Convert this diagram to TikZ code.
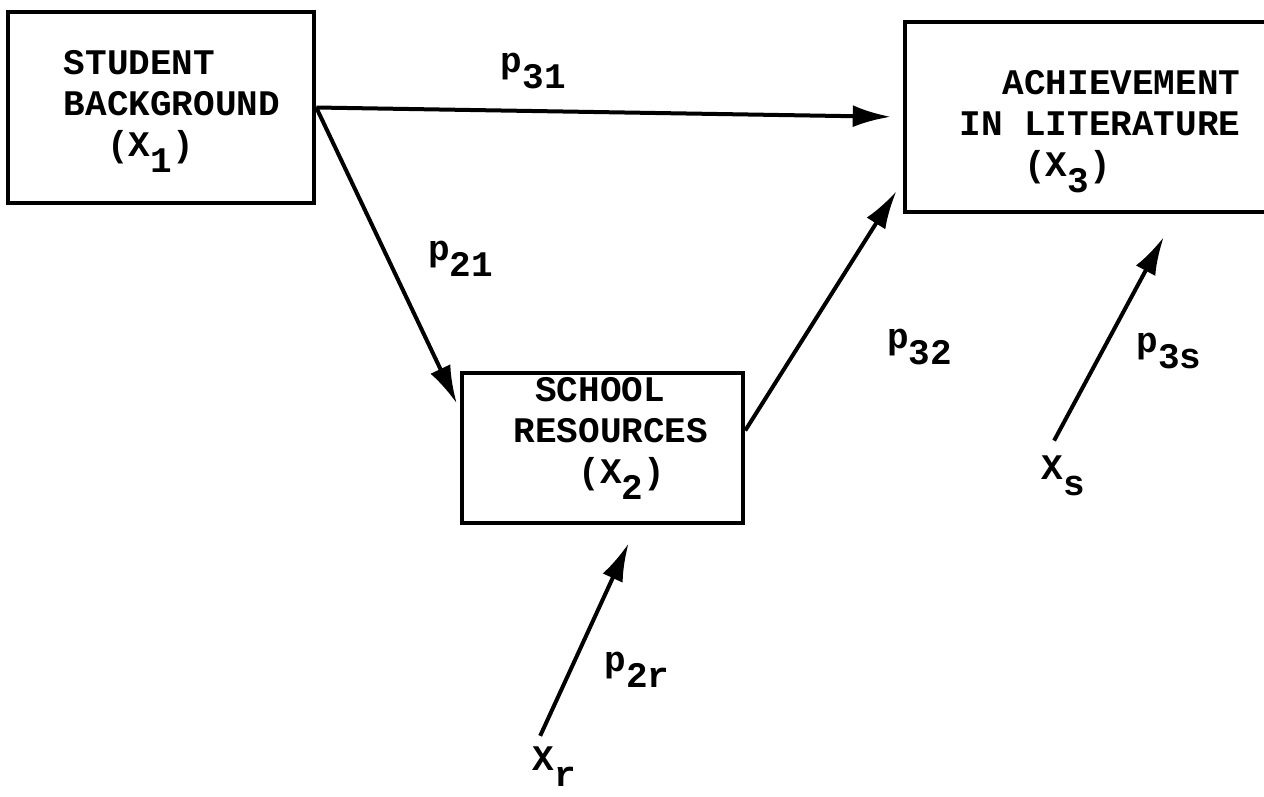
\documentclass[tikz,border=0pt]{standalone}
\usepackage{fontspec}
\setmainfont{Liberation Mono}
\usetikzlibrary{arrows.meta, positioning}
\newcommand{\subx}[1]{\raisebox{-16pt}{#1}}
\tikzstyle{block} = [rectangle, draw=black, line width=4.5pt]
\tikzstyle{blocktext} = [align=left, inner sep=0pt, font=\fontsize{36}{41}\selectfont\bfseries]
\tikzstyle{lbl} = [inner sep=2pt, font=\fontsize{36}{41}\selectfont\bfseries]
\tikzstyle{arrow} = [line width=4pt, -{Latex[length=38pt, width=22pt]}]

\begin{document}
\begin{tikzpicture}[x=1pt, y=-1pt]
\useasboundingbox (0,0) rectangle (1264,796);

\node (background) [block, minimum width=306pt, minimum height=191pt] at (161,107.5) {};
\node (resources) [block, minimum width=281pt, minimum height=150pt] at (602.5,448) {};
\node (literature) [block, minimum width=390pt, minimum height=190pt] at (1100,117) {};

\node (backgroundtext) [blocktext] at (172,111) {STUDENT\\BACKGROUND\\\phantom{XX}(X\subx{1})};
\node (resourcestext) [blocktext] at (611,438) {\phantom{X}SCHOOL\\RESOURCES\\\phantom{XXX}(X\subx{2})};
\node (literaturetext) [blocktext] at (1100,132) {\phantom{XX}ACHIEVEMENT\\IN LITERATURE\\\phantom{XXX}(X\subx{3})};

\node (xr) [lbl] at (554,767) {X\subx{r}};
\node (xs) [lbl] at (1063,476) {X\subx{s}};

% Arrows
\draw [arrow, shorten >=12pt] (background.east) -- node[lbl, pos=0.37, above=18pt] {p\subx{31}} (literature.west);
\draw [arrow, shorten >=7pt] (background.east) -- node[lbl, pos=0.5, right=36pt] {p\subx{21}} (resources.165);
\draw [arrow, shorten >=12pt] (resources.7) -- node[lbl, pos=0.335, right=85pt] {p\subx{32}} (literature.198);
\draw [arrow, shorten <=15pt, shorten >=26pt] ([xshift=-16pt]xs.north) -- node[lbl, pos=0.43, right=30pt] {p\subx{3s}} (literature.-52);
\draw [arrow, shorten <=10pt, shorten >=20pt] ([xshift=-18pt]xr.north) -- node[lbl, pos=0.344, right=30pt] {p\subx{2r}} (resources.-66);

\end{tikzpicture}
\end{document}
